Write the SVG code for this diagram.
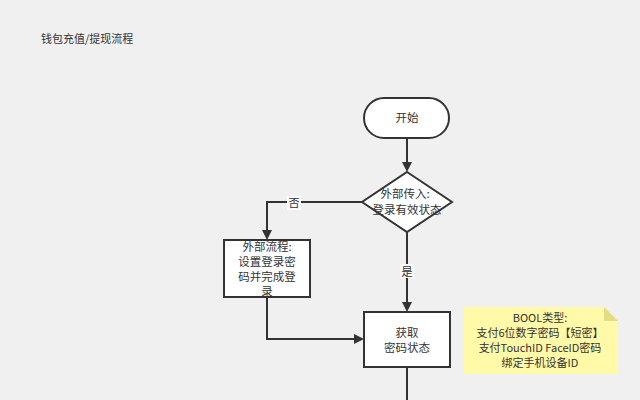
<svg xmlns="http://www.w3.org/2000/svg" width="640" height="400" viewBox="0 0 640 400">
<style>
.n{fill:#fff;stroke:#333;stroke-width:2}
.t{font-family:"Noto Sans CJK SC","Noto Sans",sans-serif;font-size:11.5px;fill:#333;text-anchor:middle}
.s{font-size:11px}
.c{fill:none;stroke:#333;stroke-width:2}
.l{font-family:"Noto Sans CJK SC",sans-serif;font-size:11.5px;fill:#333;text-anchor:middle}
</style>
<defs><marker id="a" markerWidth="10" markerHeight="10" refX="8" refY="5" orient="auto" markerUnits="userSpaceOnUse"><path d="M0,0 L10,5 L0,10 Z" fill="#333"/></marker></defs>
<rect width="640" height="400" fill="#f0f0f0"/>
<text x="41" y="43" font-family="Noto Sans CJK SC,sans-serif" font-size="11" fill="#333">钱包充值/提现流程</text>
<g id="connectors">
<path class="c" d="M407,138 V170" marker-end="url(#a)"/>
<path class="c" d="M407,232 V310" marker-end="url(#a)"/>
<path class="c" d="M362,202 H267 V238" marker-end="url(#a)"/>
<path class="c" d="M267,297 V339 H362" marker-end="url(#a)"/>
<path class="c" d="M407,367 V400"/>
<rect x="287" y="196" width="14" height="14" fill="#fff"/><text class="l" x="294" y="207">否</text>
<rect x="400" y="264" width="14" height="14" fill="#fff"/><text class="l" x="407" y="276">是</text>
</g>
<g id="start"><rect class="n" x="364" y="98" width="85" height="40" rx="20"/><text class="t" x="407" y="122">开始</text></g>
<g id="decision"><path class="n" d="M407,172 L452,202 L407,232 L362,202 Z"/><text class="t" x="405" y="198">外部传入:</text><text class="t" x="407" y="214">登录有效状态</text></g>
<g id="external"><rect class="n" x="224" y="240" width="86" height="57"/><text class="t" x="267" y="251">外部流程:</text><text class="t" x="267" y="266">设置登录密</text><text class="t" x="267" y="281">码并完成登</text><text class="t" x="267" y="296">录</text></g>
<g id="get"><rect class="n" x="364" y="312" width="86" height="55"/><text class="t" x="407" y="337">获取</text><text class="t" x="407" y="352">密码状态</text></g>
<g id="note"><path d="M464,307 H604 L618,321 V374 H464 Z" fill="#fff9a8"/><path d="M604,307 V321 H618 Z" fill="#e3dc80"/>
<text class="t s" x="540" y="322">BOOL类型:</text><text class="t s" x="540" y="337">支付6位数字密码【短密】</text><text class="t s" x="540" y="352">支付TouchID FaceID密码</text><text class="t s" x="540" y="367">绑定手机设备ID</text></g>
</svg>
